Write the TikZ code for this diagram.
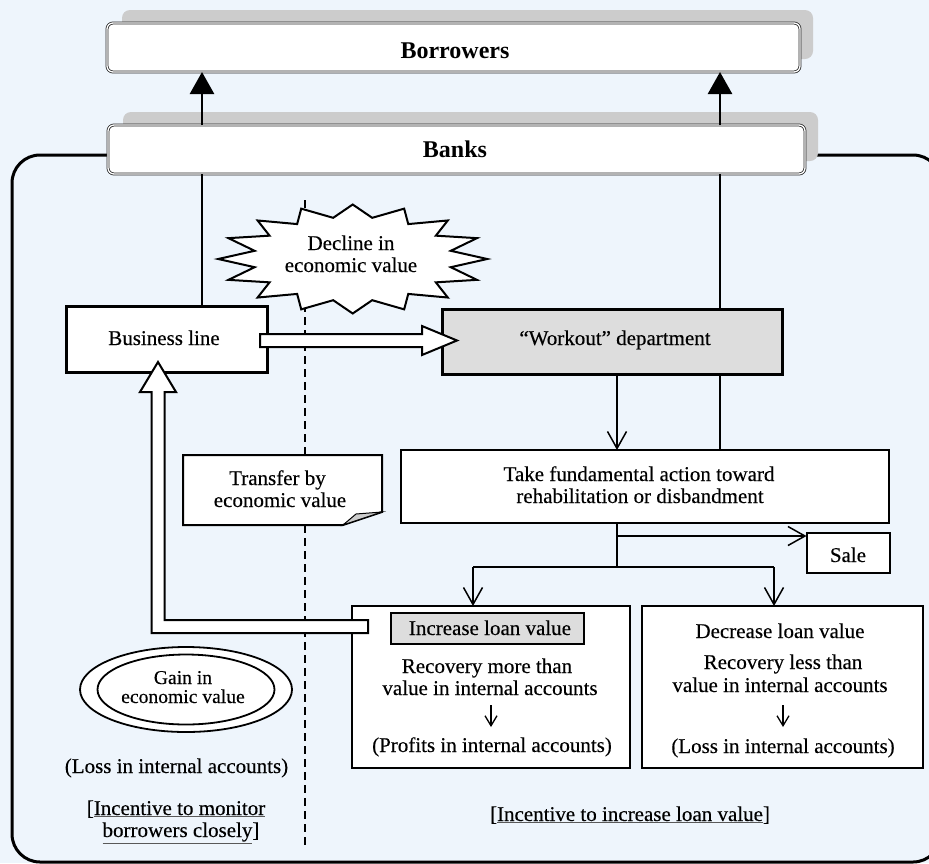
\documentclass[tikz,border=0pt]{standalone}
\usepackage{fontspec}
\setmainfont{Liberation Serif}[UprightFeatures={FakeBold=0.3}]
\usetikzlibrary{arrows.meta,shapes.geometric,calc}
\definecolor{bgblue}{RGB}{238,245,252}
\definecolor{shadowgray}{RGB}{204,204,204}
\definecolor{boxgray}{RGB}{221,221,221}
\newcommand\myul[1]{\rlap{\textcolor{black!65}{\underline{\phantom{#1}}}}#1}
\begin{document}
\begin{tikzpicture}[x=1pt,y=-1pt,
  every node/.style={inner sep=0pt, outer sep=0pt},
  txt/.style={anchor=base, font=\fontsize{21}{23}\selectfont},
  smalltxt/.style={anchor=base, font=\fontsize{19.6}{21}\selectfont},
  boldtxt/.style={anchor=base, font=\fontsize{24}{26}\selectfont\bfseries},
  box/.style={draw, fill=white, line width=2pt},
  heavybox/.style={draw, fill=white, line width=3pt},
  topbox/.style={draw=black!85, fill=white, double=white, double distance=1.3pt, line width=0.8pt, rounded corners=6pt},
  conn/.style={line width=2.6pt},
  thinline/.style={line width=1.5pt},
  barb/.style={-{Straight Barb[length=17pt,width=19pt]}},
  sbarb/.style={-{Straight Barb[length=10pt,width=12pt]}},
  filltip/.style={-{Triangle[length=22pt,width=24pt]}},
  hollow/.style={draw, fill=white, line width=2pt, line join=miter},
  ell/.style={draw, fill=white, ellipse, line width=1.8pt},
]
\useasboundingbox (0,0) rectangle (929,863);
\fill[bgblue] (0,0) rectangle (929,863);

% outer frame
\draw[line width=3pt, rounded corners=28pt] (12,155) rectangle (941,862);

% shadows
\fill[fill=shadowgray, rounded corners=8pt] (122,10) rectangle (813,59);
\fill[fill=shadowgray, rounded corners=8pt] (123,112) rectangle (818,161);

% main boxes
\node[topbox, minimum width=693pt, minimum height=49pt] (bor) at (453.5,47.5) {};
\node[boldtxt] (borT) at (455,58) {Borrowers};
\node[topbox, minimum width=697pt, minimum height=49pt] (banks) at (456.5,149.5) {};
\node[boldtxt] (banksT) at (455,157) {Banks};

\node[heavybox, minimum width=201pt, minimum height=66pt] (bl) at (166.5,339) {};
\node[txt] (blT) at (164,345) {Business line};

\node[heavybox, fill=boxgray, minimum width=340pt, minimum height=65pt] (wo) at (612,341.5) {};
\node[txt] (woT) at (615,345) {“Workout” department};

\node[box, minimum width=488pt, minimum height=73pt] (take) at (645,486.5) {};
\node[txt] (takeT1) at (639,481) {Take fundamental action toward};
\node[txt] (takeT2) at (640,503) {rehabilitation or disbandment};

\node[box, minimum width=83pt, minimum height=40pt] (sale) at (848,553) {};
\node[txt] (saleT) at (848,562) {Sale};

\node[box, minimum width=278pt, minimum height=162pt] (inc) at (491,687) {};
\node[box, minimum width=281pt, minimum height=162pt] (dec) at (782.5,687) {};
\node[draw, fill=boxgray, line width=1.3pt, minimum width=193pt, minimum height=31pt] (lab) at (487.5,628.5) {};
\node[txt] (labT) at (490,635) {Increase loan value};
\node[txt] (incT1) at (487,673) {Recovery more than};
\node[txt] (incT2) at (490,695) {value in internal accounts};
\node[txt] (incT3) at (492,752) {(Profits in internal accounts)};
\node[txt] (decT0) at (780,638) {Decrease loan value};
\node[txt] (decT1) at (783,669) {Recovery less than};
\node[txt] (decT2) at (780,692) {value in internal accounts};
\node[txt] (decT3) at (783,753) {(Loss in internal accounts)};

% helper coordinates
\coordinate (c202) at (202,0);
\coordinate (c720) at (720,0);
\coordinate (c617) at (617,0);
\coordinate (sj) at (617,536);
\coordinate (br) at (617,567);
\coordinate (brL) at (473,567);
\coordinate (brR) at (774,567);
\coordinate (ia1) at (491,705);
\coordinate (ia2) at (491,727);
\coordinate (da1) at (783,705);
\coordinate (da2) at (783,727);

% connectors
\draw[conn, filltip] (banks.north -| c202) -- (bor.south -| c202);
\draw[conn, filltip] (banks.north -| c720) -- (bor.south -| c720);
\draw[conn] (banks.south -| c202) -- (bl.north -| c202);
\draw[conn] (banks.south -| c720) -- (wo.north -| c720);
\draw[conn] (wo.south -| c720) -- (take.north -| c720);
\draw[thinline, barb] (wo.south -| c617) -- (take.north -| c617);
\draw[thinline] (take.south -| c617) -- (br);
\draw[thinline, barb] (sj) -- (sj -| sale.west);
\draw[thinline] (brL) -- (brR);
\draw[thinline, barb] (brL) -- (brL |- inc.north);
\draw[thinline, barb] (brR) -- (brR |- dec.north);
\draw[line width=1.3pt, sbarb] (ia1) -- (ia2);
\draw[line width=1.3pt, sbarb] (da1) -- (da2);

% dashed divider
\draw[line width=1.8pt, dash pattern=on 8pt off 5pt] (305,200) -- (305,848);

% hollow arrows
\draw[hollow] (260,334) -- (422,334) -- (422,326) -- (457,340.5) -- (422,355) -- (422,347) -- (260,347) -- cycle;
\draw[hollow] (368,620) -- (164.5,620) -- (164.5,392) -- (176,392) -- (158,362) -- (140,392) -- (151.5,392) -- (151.5,633) -- (368,633) -- cycle;

% starburst
\draw[line width=2pt, fill=white, line join=miter]
  plot[samples at={0,...,31}, variable=\i]
  ({352.7+ifthenelse(mod(\i,2)==0,134.5,100)*cos(\i*11.25)},
   {259+ifthenelse(mod(\i,2)==0,54.5,42)*sin(\i*11.25)}) -- cycle;
\node[txt] (burstT1) at (351,250) {Decline in};
\node[txt] (burstT2) at (351,272) {economic value};

% note
\draw[line width=2pt, fill=white, line join=miter] (183,455) -- (382,455) -- (382,512) -- (343,525) -- (183,525) -- cycle;
\draw[line width=1pt, fill=shadowgray] (343,525) -- (382,512) -- (356,514) -- cycle;
\node[txt] (noteT1) at (277.5,485) {Transfer by};
\node[txt] (noteT2) at (280,507) {economic value};

% ellipse
\node[ell, minimum width=212pt, minimum height=85pt] (gainO) at (186,689.5) {};
\node[ell, minimum width=177pt, minimum height=70pt] (gainI) at (186,689.5) {};
\node[smalltxt] (gainT1) at (183,684) {Gain in};
\node[smalltxt] (gainT2) at (183,703) {economic value};

% bottom texts
\node[txt] (lossL) at (176.5,773) {(Loss in internal accounts)};
\node[txt] (incL1) at (176,815) {[\myul{Incentive to monitor}};
\node[txt] (incL2) at (181,837) {\myul{borrowers closely}]};
\node[txt] (incR) at (630,821) {[\myul{Incentive to increase loan value}]};
\end{tikzpicture}
\end{document}
